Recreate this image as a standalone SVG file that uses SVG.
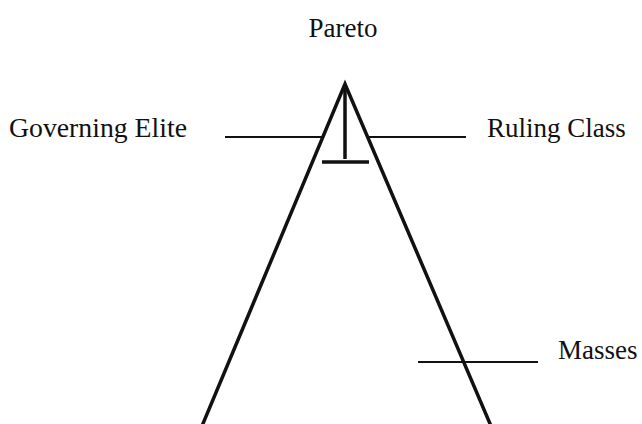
<svg xmlns="http://www.w3.org/2000/svg" width="642" height="424" viewBox="0 0 642 424">
<style>
text{font-family:"Liberation Serif","Times New Roman",serif;font-size:27px;fill:#111}
.tri{fill:none;stroke:#111;stroke-width:3.5;stroke-linejoin:miter}
.lead{stroke:#111;stroke-width:2}
.thick{stroke:#111;stroke-width:3.5}
</style>
<rect width="642" height="424" fill="#fff"/>
<g id="title"><text x="343" y="37" text-anchor="middle">Pareto</text></g>
<g id="pyramid">
<polyline class="tri" points="202,426 345,84 491,426"/>
<line class="thick" x1="345" y1="86" x2="345" y2="159"/>
<line class="thick" x1="322" y1="162" x2="369" y2="162"/>
</g>
<g id="connectors">
<line class="lead" x1="225" y1="137" x2="322" y2="137"/>
<line class="lead" x1="368" y1="137" x2="466" y2="137"/>
<line class="lead" x1="418" y1="362" x2="538" y2="362"/>
</g>
<g id="governing-elite"><text x="9" y="137" textLength="178" lengthAdjust="spacingAndGlyphs">Governing Elite</text></g>
<g id="ruling-class"><text x="487" y="137">Ruling Class</text></g>
<g id="masses"><text x="558" y="359">Masses</text></g>
</svg>
